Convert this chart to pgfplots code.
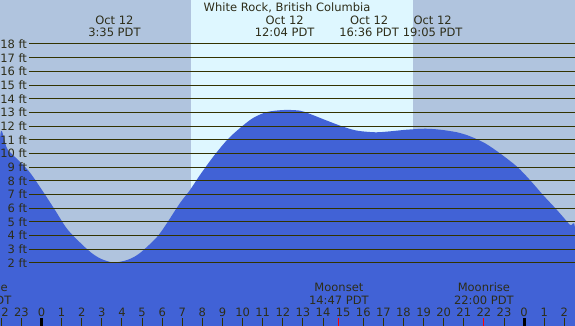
\documentclass[border=0pt]{standalone}
\usepackage{pgfplots}
\pgfplotsset{compat=1.18}
\usepackage{fontspec}
\setmainfont{DejaVu Sans}
\definecolor{night}{RGB}{176,196,222}
\definecolor{day}{RGB}{222,247,255}
\definecolor{tide}{RGB}{65,98,214}
\definecolor{ink}{RGB}{51,51,0}
\definecolor{txt}{RGB}{45,45,25}
\tikzset{lbl/.style={font=\fontsize{11.5}{13}\selectfont, text=txt, inner sep=0pt, outer sep=0pt}}
\begin{document}
\begin{tikzpicture}
\useasboundingbox (0,0) rectangle (575pt,326pt);
\clip (0,0) rectangle (575pt,326pt);
\begin{axis}[at={(0,0)}, anchor=south west, width=575pt, height=326pt, scale only axis,
  xmin=-2.064, xmax=26.53, ymin=-2.603, ymax=21.215,
  axis lines=none, ticks=none, clip=false]
% background
\fill[night] (axis cs:-2.064,-2.603) rectangle (axis cs:26.53,21.215);
\fill[day] (axis cs:7.434,-2.603) rectangle (axis cs:18.47,21.215);
% tide
\addplot[fill=tide, draw=none, smooth, tension=0.5] coordinates {
(-2.064,-2.603) (-2.064,10.98) (-1.666,10.25) (-0.671,8.78) (0.025,7.33) (0.671,5.87)
(1.318,4.41) (2.312,2.95) (2.909,2.34) (3.58,2.04) (4.3,2.24) (4.898,2.73) (5.743,3.90)
(6.24,4.92) (6.887,6.38) (7.384,7.33) (7.881,8.43) (8.528,9.74) (9.224,10.98)
(9.871,11.86) (10.517,12.59) (11.213,13.03) (12.07,13.18) (12.853,13.13) (13.35,12.89)
(14.197,12.40) (14.993,11.96) (15.689,11.67) (16.6,11.55) (17.331,11.62) (18.176,11.74)
(19.08,11.81) (19.816,11.74) (20.661,11.55) (21.308,11.26) (22.054,10.75) (22.8,10.01)
(23.645,9.04) (24.291,8.06) (24.938,6.97) (25.634,5.87) (26.28,4.78) (26.53,4.41) (26.53,-2.603)
};
% horizontal lines and labels
\pgfplotsinvokeforeach{2,...,18}{
  \draw[ink, line width=1pt] (axis cs:-0.622,#1) -- (axis cs:26.53,#1);
  \node[lbl, anchor=east] at (axis cs:-0.721,#1) {#1 ft};
}
% title and event labels
\node[lbl, anchor=base] at (axis cs:12.21,20.36) {White Rock, British Columbia};
\node[lbl, anchor=base] at (axis cs:3.625,19.46) {Oct 12};
\node[lbl, anchor=base] at (axis cs:3.625,18.58) {3:35 PDT};
\node[lbl, anchor=base] at (axis cs:12.09,19.46) {Oct 12};
\node[lbl, anchor=base] at (axis cs:12.09,18.58) {12:04 PDT};
\node[lbl, anchor=base] at (axis cs:16.29,19.46) {Oct 12};
\node[lbl, anchor=base] at (axis cs:16.29,18.58) {16:36 PDT};
\node[lbl, anchor=base] at (axis cs:19.45,19.46) {Oct 12};
\node[lbl, anchor=base] at (axis cs:19.45,18.58) {19:05 PDT};
% moon labels
\node[lbl, anchor=base] at (axis cs:-2.98,-0.10) {Moonrise};
\node[lbl, anchor=base] at (axis cs:-2.98,-1.0) {21:01 PDT};
\node[lbl, anchor=base] at (axis cs:14.79,-0.10) {Moonset};
\node[lbl, anchor=base] at (axis cs:14.79,-1.0) {14:47 PDT};
\node[lbl, anchor=base] at (axis cs:22.0,-0.10) {Moonrise};
\node[lbl, anchor=base] at (axis cs:22.0,-1.0) {22:00 PDT};
% hour labels
\node[lbl, anchor=base] at (axis cs:-2,-1.924) {22};
\node[lbl, anchor=base] at (axis cs:-1,-1.924) {23};
\node[lbl, anchor=base] at (axis cs:0,-1.924) {0};
\node[lbl, anchor=base] at (axis cs:1,-1.924) {1};
\node[lbl, anchor=base] at (axis cs:2,-1.924) {2};
\node[lbl, anchor=base] at (axis cs:3,-1.924) {3};
\node[lbl, anchor=base] at (axis cs:4,-1.924) {4};
\node[lbl, anchor=base] at (axis cs:5,-1.924) {5};
\node[lbl, anchor=base] at (axis cs:6,-1.924) {6};
\node[lbl, anchor=base] at (axis cs:7,-1.924) {7};
\node[lbl, anchor=base] at (axis cs:8,-1.924) {8};
\node[lbl, anchor=base] at (axis cs:9,-1.924) {9};
\node[lbl, anchor=base] at (axis cs:10,-1.924) {10};
\node[lbl, anchor=base] at (axis cs:11,-1.924) {11};
\node[lbl, anchor=base] at (axis cs:12,-1.924) {12};
\node[lbl, anchor=base] at (axis cs:13,-1.924) {13};
\node[lbl, anchor=base] at (axis cs:14,-1.924) {14};
\node[lbl, anchor=base] at (axis cs:15,-1.924) {15};
\node[lbl, anchor=base] at (axis cs:16,-1.924) {16};
\node[lbl, anchor=base] at (axis cs:17,-1.924) {17};
\node[lbl, anchor=base] at (axis cs:18,-1.924) {18};
\node[lbl, anchor=base] at (axis cs:19,-1.924) {19};
\node[lbl, anchor=base] at (axis cs:20,-1.924) {20};
\node[lbl, anchor=base] at (axis cs:21,-1.924) {21};
\node[lbl, anchor=base] at (axis cs:22,-1.924) {22};
\node[lbl, anchor=base] at (axis cs:23,-1.924) {23};
\node[lbl, anchor=base] at (axis cs:24,-1.924) {0};
\node[lbl, anchor=base] at (axis cs:25,-1.924) {1};
\node[lbl, anchor=base] at (axis cs:26,-1.924) {2};
% ticks
\pgfplotsinvokeforeach{-2,-1,1,2,3,4,5,6,7,8,9,10,11,12,13,14,16,17,18,19,20,21,23,25,26}{
  \draw[ink, line width=1pt] (axis cs:#1,-2.04) -- (axis cs:#1,-2.7);
}
\draw[black, line width=3pt] (axis cs:0,-2.04) -- (axis cs:0,-2.7);
\draw[black, line width=3pt] (axis cs:24,-2.04) -- (axis cs:24,-2.7);
\draw[red, line width=1pt] (axis cs:14.783,-2.04) -- (axis cs:14.783,-2.7);
\draw[red, line width=1pt] (axis cs:22,-2.04) -- (axis cs:22,-2.7);
\end{axis}
\end{tikzpicture}
\end{document}
